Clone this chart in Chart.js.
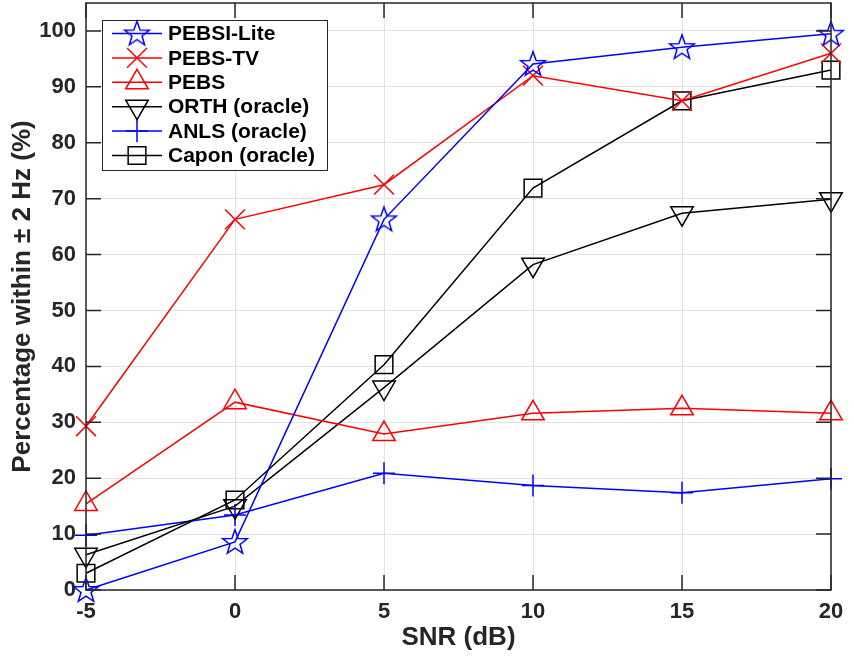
<!DOCTYPE html>
<html>
<head>
<meta charset="utf-8">
<script src="https://cdn.jsdelivr.net/npm/chart.js@4/dist/chart.umd.min.js"></script>
<style>
  html, body { margin: 0; padding: 0; background: #fff; }
  #wrap { width: 854px; height: 657px; }
</style>
</head>
<body>
<div id="wrap"><canvas id="snrChart" width="854" height="657"></canvas></div>
<script>
// SNR sweep, percentage of estimates within +-2 Hz
const snr = [-5, 0, 5, 10, 15, 20];
const xTicks = [-5, 0, 5, 10, 15, 20];
const yTicks = [0, 10, 20, 30, 40, 50, 60, 70, 80, 90, 100];

const pebsiLite = [0, 8.6, 66.3, 94.1, 97.1, 99.5];
const pebsTv = [29.3, 66.3, 72.5, 92.0, 87.5, 96.0];
const pebs = [15.4, 33.6, 27.9, 31.6, 32.5, 31.6];
const orth = [6.3, 15.0, 36.2, 58.2, 67.4, 69.9];
const anls = [9.8, 13.4, 20.9, 18.7, 17.4, 19.9];
const capon = [3.0, 16.1, 40.3, 71.9, 87.5, 93.0];

const seriesNames = ['PEBSI-Lite', 'PEBS-TV', 'PEBS', 'ORTH (oracle)', 'ANLS (oracle)', 'Capon (oracle)'];

const FONT = '"Liberation Sans", Arial, Helvetica, sans-serif';
const AXIS_COLOR = '#262626';

// MATLAB-like hollow pentagram, drawn once to a small canvas
function makeStar(color) {
    const c = document.createElement('canvas');
    c.width = 30; c.height = 30;
    const g = c.getContext('2d');
    const outer = 13, inner = 5.3;
    g.beginPath();
    for (let i = 0; i < 10; i++) {
        const r = i % 2 === 0 ? outer : inner;
        const a = -Math.PI / 2 + i * Math.PI / 5;
        const px = 15 + r * Math.cos(a), py = 15.8 + r * Math.sin(a);
        if (i === 0) g.moveTo(px, py); else g.lineTo(px, py);
    }
    g.closePath();
    g.strokeStyle = color;
    g.lineWidth = 1.5;
    g.stroke();
    return c;
}
const starImg = makeStar('#0000ff');

function series(label, data, color, style, radius, rotation) {
    return {
        label: label,
        data: snr.map((x, i) => ({ x: x, y: data[i] })),
        borderColor: color,
        backgroundColor: color,
        borderWidth: 1.5,
        pointStyle: style,
        pointRadius: radius,
        pointRotation: rotation || 0,
        pointBorderColor: color,
        pointBackgroundColor: 'rgba(0,0,0,0)',
        pointBorderWidth: 1.5,
        pointHoverRadius: radius,
        tension: 0,
        clip: false
    };
}

const datasets = [
    series(seriesNames[0], pebsiLite, '#0000ff', starImg, 13),
    series(seriesNames[1], pebsTv, '#ff0000', 'crossRot', 14),
    series(seriesNames[2], pebs, '#ff0000', 'triangle', 13),
    series(seriesNames[3], orth, '#000000', 'triangle', 13, 180),
    series(seriesNames[4], anls, '#0000ff', 'cross', 11),
    series(seriesNames[5], capon, '#000000', 'rect', 12.5)
];

// axes box with inward ticks on all four sides
const boxPlugin = {
    id: 'matlabBox',
    afterDatasetsDraw(chart) {
        const ctx = chart.ctx;
        const a = chart.chartArea;
        const xs = chart.scales.x, ys = chart.scales.y;
        const len = 15;
        ctx.save();
        ctx.strokeStyle = AXIS_COLOR;
        ctx.lineWidth = 1.5;
        ctx.beginPath();
        xTicks.forEach(v => {
            const px = xs.getPixelForValue(v);
            ctx.moveTo(px, a.bottom); ctx.lineTo(px, a.bottom - len);
            ctx.moveTo(px, a.top); ctx.lineTo(px, a.top + len);
        });
        yTicks.forEach(v => {
            const py = ys.getPixelForValue(v);
            ctx.moveTo(a.left, py); ctx.lineTo(a.left + len, py);
            ctx.moveTo(a.right, py); ctx.lineTo(a.right - len, py);
        });
        ctx.stroke();
        ctx.strokeRect(a.left, a.top, a.right - a.left, a.bottom - a.top);
        ctx.restore();
    }
};

// legend box with line + marker samples
const legendPlugin = {
    id: 'matlabLegend',
    afterDraw(chart) {
        const ctx = chart.ctx;
        const x0 = 102, y0 = 20, w = 225, h = 150;
        const rowH = 24.4, firstY = 33.5;
        ctx.save();
        ctx.fillStyle = '#fff';
        ctx.fillRect(x0, y0, w, h);
        ctx.strokeStyle = AXIS_COLOR;
        ctx.lineWidth = 1;
        ctx.strokeRect(x0 + 0.5, y0 + 0.5, w, h);
        chart.data.datasets.forEach((ds, i) => {
            const y = firstY + i * rowH;
            ctx.strokeStyle = ds.borderColor;
            ctx.lineWidth = 1.5;
            ctx.beginPath();
            ctx.moveTo(112, y); ctx.lineTo(162, y);
            ctx.stroke();
            ctx.fillStyle = 'rgba(0,0,0,0)';
            Chart.helpers.drawPoint(ctx, {
                pointStyle: ds.pointStyle,
                radius: ds.pointRadius,
                rotation: ds.pointRotation,
                borderWidth: 1.5
            }, 137, y);
            ctx.fillStyle = '#000';
            ctx.font = 'bold 21px ' + FONT;
            ctx.textBaseline = 'middle';
            ctx.textAlign = 'left';
            ctx.fillText(ds.label, 168, y + 1);
        });
        ctx.restore();
    }
};

const tickFont = { family: FONT, size: 22, weight: 'bold' };
const titleFont = { family: FONT, size: 26, weight: 'bold' };

new Chart(document.getElementById('snrChart'), {
    type: 'line',
    data: { datasets: datasets },
    options: {
        responsive: false,
        animation: false,
        events: [],
        layout: { autoPadding: false, padding: { left: 0, right: 23, top: 3, bottom: 0 } },
        plugins: { legend: { display: false }, tooltip: { enabled: false } },
        scales: {
            x: {
                type: 'linear',
                min: -5,
                max: 20,
                afterBuildTicks: s => { s.ticks = xTicks.map(v => ({ value: v })); },
                afterFit: s => { s.height = 67; s.paddingLeft = 0; s.paddingRight = 0; },
                grid: { color: '#e2e2e2', lineWidth: 1, drawTicks: false },
                border: { display: false },
                ticks: { color: AXIS_COLOR, font: tickFont, padding: 9, maxRotation: 0 },
                title: { display: true, text: 'SNR (dB)', color: AXIS_COLOR, font: titleFont, padding: { top: 0, bottom: 4 } }
            },
            y: {
                min: 0,
                max: 105,
                afterBuildTicks: s => { s.ticks = yTicks.map(v => ({ value: v })); },
                afterFit: s => { s.width = 86; s.paddingTop = 0; s.paddingBottom = 0; },
                grid: { color: '#e2e2e2', lineWidth: 1, drawTicks: false },
                border: { display: false },
                ticks: { color: AXIS_COLOR, font: tickFont, padding: 10 },
                title: { display: true, text: 'Percentage within ± 2 Hz (%)', color: AXIS_COLOR, font: titleFont, padding: { top: 7, bottom: 0 } }
            }
        }
    },
    plugins: [boxPlugin, legendPlugin]
});
</script>
</body>
</html>
